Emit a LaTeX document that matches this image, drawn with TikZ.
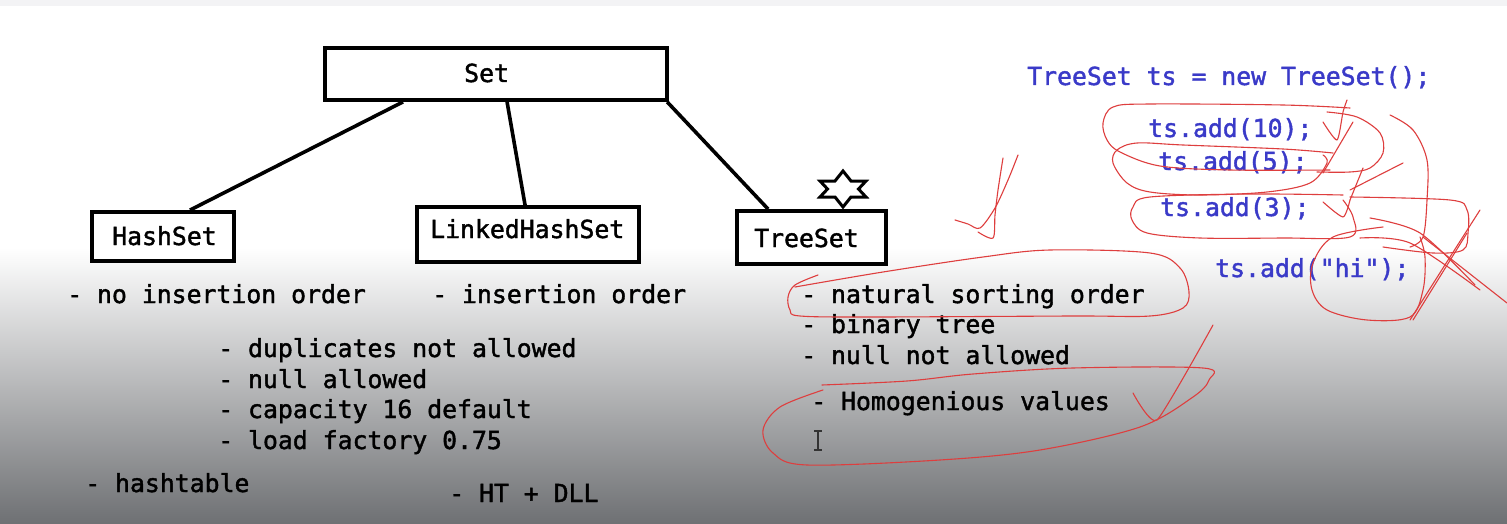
\documentclass[tikz,border=0pt]{standalone}
\usepackage{fontspec}
\usetikzlibrary{calc}
\newfontfamily\codefont[FakeBold=1.6]{DejaVu Sans Mono}
\definecolor{codeblue}{RGB}{58,58,200}
\definecolor{pen}{RGB}{222,62,62}
\definecolor{bgstrip}{RGB}{243,243,245}
\definecolor{bgmid}{RGB}{198,198,200}
\definecolor{bgbot}{RGB}{110,112,115}
\begin{document}
\begin{tikzpicture}[x=1pt,y=-1pt,
  box/.style={draw=black, line width=3.8pt, fill=white, inner sep=0pt},
  txt/.style={anchor=base west, inner sep=0pt, font=\codefont\fontsize{24.8pt}{30pt}\selectfont, text=black},
  code/.style={txt, text=codeblue},
  ink/.style={draw=pen, line width=1.1pt, line cap=round, line join=round},
  link/.style={draw=black, line width=3.6pt}]

\useasboundingbox (0,0) rectangle (1507,524);
\fill[white] (0,0) rectangle (1507,524);
\fill[bgstrip] (0,0) rectangle (1507,6);
\shade[top color=white, middle color=bgmid, bottom color=bgbot] (0,248) rectangle (1507,524);

% connectors (under the boxes)
\node[box, minimum width=342pt, minimum height=52pt] (set) at (496,74) {};
\node[box, minimum width=142pt, minimum height=49pt] (hash) at (163,236.5) {};
\node[box, minimum width=222pt, minimum height=55pt] (linked) at (528,234.5) {};
\node[box, minimum width=149pt, minimum height=53pt] (tree) at (811.5,237.5) {};

\draw[link] ($(set.south west)!0.231!(set.south east)$) -- ($(hash.north west)!0.685!(hash.north east)$);
\draw[link] ($(set.south west)!0.532!(set.south east)$) -- ($(linked.north west)!0.487!(linked.north east)$);
\draw[link] ($(set.south west)!0.995!(set.south east)$) -- ($(tree.north west)!0.216!(tree.north east)$);

% box labels
\node[txt] (setT) at (464,82) {Set};
\node[txt] (hashT) at (112,245) {HashSet};
\node[txt] (linkedT) at (430,238) {LinkedHashSet};
\node[txt] (treeT) at (754,247) {TreeSet};

% star
\draw[black, line width=3pt, line join=miter, fill=white]
  (843,171) -- (851,181) -- (866,181) -- (858.5,189) -- (866,197) -- (851,197)
  -- (843,207) -- (835,197) -- (820,197) -- (827.5,189) -- (820,181) -- (835,181) -- cycle;

% list texts
\node[txt] (h1) at (67,303) {- no insertion order};
\node[txt] (l1) at (432,303) {- insertion order};
\node[txt] (c1) at (218,357) {- duplicates not allowed};
\node[txt] (c2) at (218,388) {- null allowed};
\node[txt] (c3) at (218,418) {- capacity 16 default};
\node[txt] (c4) at (218,449) {- load factory 0.75};
\node[txt] (h2) at (85,492) {- hashtable};
\node[txt] (l2) at (449,502) {- HT + DLL};
\node[txt] (t1) at (801,303) {- natural sorting order};
\node[txt] (t2) at (801,333) {- binary tree};
\node[txt] (t3) at (801,364) {- null not allowed};
\node[txt] (t4) at (811,410) {- Homogenious values};

% code
\node[code] (k0) at (1027,85) {TreeSet ts = new TreeSet();};
\node[code] (k1) at (1148,137) {ts.add(10);};
\node[code] (k2) at (1158,170) {ts.add(5);};
\node[code] (k3) at (1160,216) {ts.add(3);};
\node[code] (k4) at (1215,277) {ts.add("hi");};

% cursor
\draw[black!80, line width=1.2pt] (818,431) -- (818,450) (814,431) -- (822,431) (814,450) -- (822,450);

% red annotations
\draw[ink] plot[smooth, tension=0.55] coordinates {(1350,108) (1283,105) (1150,104) (1113,107) (1103,123) (1107,140) (1120,152) (1160,166) (1230,170) (1330,170)};
\draw[ink] plot[smooth, tension=0.55] coordinates {(1333,153) (1283,149) (1183,145) (1137,143) (1117,150) (1113,163) (1127,183) (1150,192) (1200,195) (1267,192) (1310,183) (1327,163) (1323,155)};
\draw[ink] plot[smooth, tension=0.55] coordinates {(1327,112) (1357,117) (1380,133) (1383,153) (1370,168) (1350,172) (1317,172)};
\draw[ink] plot[smooth, tension=0.55] coordinates {(1390,115) (1413,130) (1427,160) (1427,200) (1423,237) (1410,247)};
\draw[ink] plot[smooth, tension=0.4] coordinates {(1323,122) (1337,140) (1343,112) (1347,100)};
\draw[ink] (1353,122) -- (1323,173);
\draw[ink] (1403,163) -- (1350,190);
\draw[ink] (1363,168) -- (1350,200);
\draw[ink] plot[smooth, tension=0.55] coordinates {(1343,195) (1250,194) (1150,197) (1133,207) (1132,220) (1147,233) (1200,238) (1283,238) (1350,237) (1353,217) (1343,200)};
\draw[ink] plot[smooth, tension=0.55] coordinates {(1350,197) (1450,200) (1467,210) (1468,233) (1463,250) (1433,253) (1383,247)};
\draw[ink] plot[smooth, tension=0.4] coordinates {(1323,202) (1343,217) (1350,200)};
\draw[ink] plot[smooth, tension=0.55] coordinates {(1383,227) (1333,237) (1313,263) (1312,290) (1327,310) (1367,320) (1410,317) (1423,290) (1425,257) (1420,237)};
\draw[ink] plot[smooth, tension=0.5] coordinates {(1360,238) (1410,243) (1480,290)};
\draw[ink] plot[smooth, tension=0.5] coordinates {(1370,218) (1420,233) (1475,285)};
\draw[ink] (1423,237) -- (1507,303);
\draw[ink] plot[smooth, tension=0.5] coordinates {(1480,210) (1450,257) (1410,320)};
\draw[ink] (1467,233) -- (1413,320);
\draw[ink] plot[smooth, tension=0.5] coordinates {(955,220) (968,224) (980,228) (995,208) (1008,180) (1018,155)};
\draw[ink] plot[smooth, tension=0.5] coordinates {(1003,158) (998,190) (995,215) (993,238) (978,232)};
\draw[ink] plot[smooth, tension=0.55] coordinates {(818,275) (795,285) (788,297) (790,310) (800,316) (873,317) (1073,316) (1150,316) (1183,308) (1189,292) (1180,268) (1150,253) (1050,250) (983,257) (883,272) (795,287)};
\draw[ink] plot[smooth, tension=0.55] coordinates {(822,385) (907,381) (973,374) (1073,368) (1203,368) (1209,380) (1193,397) (1140,427) (1040,450) (940,460) (807,465) (773,453) (763,430) (780,407) (823,390)};
\draw[ink] plot[smooth, tension=0.3] coordinates {(1133,393) (1157,420) (1213,325)};
\end{tikzpicture}
\end{document}
